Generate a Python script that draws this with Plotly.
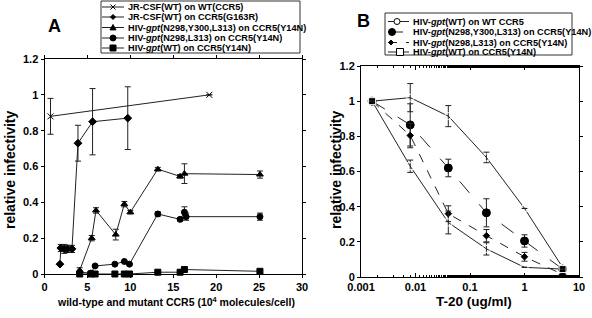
import plotly.graph_objects as go

W, H = 592, 318
FONT = "Liberation Sans, Arial, Helvetica, sans-serif"

# ---------------- Panel A data ----------------
a_wt_x = [0.7, 19.2]
a_wt_y = [0.88, 1.0]
a_wt_e = [0.10, 0.0]

a_g163r_x = [1.8, 1.9, 2.3, 2.7, 3.2, 3.9, 5.6, 9.7]
a_g163r_y = [0.055, 0.145, 0.14, 0.14, 0.14, 0.73, 0.85, 0.87]
a_g163r_e = [0.0, 0.02, 0.025, 0.02, 0.02, 0.10, 0.185, 0.175]

a_tri_x = [4.1, 5.5, 6.0, 8.3, 9.3, 10.0, 13.2, 15.8, 16.3, 25.1]
a_tri_y = [0.02, 0.20, 0.355, 0.22, 0.39, 0.345, 0.585, 0.545, 0.56, 0.555]
a_tri_e = [0.015, 0.015, 0.015, 0.03, 0.015, 0.01, 0.01, 0.01, 0.055, 0.02]

a_cir_x = [4.1, 5.4, 5.9, 8.2, 9.3, 9.9, 13.2, 15.8, 16.3, 16.5, 25.1]
a_cir_y = [0.01, 0.005, 0.045, 0.055, 0.07, 0.055, 0.335, 0.305, 0.345, 0.32, 0.32]
a_cir_e = [0.0, 0.0, 0.0, 0.0, 0.0, 0.0, 0.012, 0.01, 0.03, 0.02, 0.02]

a_sq_x = [4.1, 5.4, 5.9, 8.2, 9.3, 9.9, 13.2, 15.8, 16.3, 25.1]
a_sq_y = [0.0, 0.0, 0.0, 0.0, 0.0, 0.0, 0.01, 0.01, 0.025, 0.015]

# ---------------- Panel B data ----------------
b_x = [0.0016, 0.008, 0.04, 0.2, 1, 5]
b_wt_y = [1.0, 1.02, 0.915, 0.68, 0.39, 0.055]
b_wt_e = [0.0, 0.08, 0.06, 0.03, 0.0, 0.0]
b_nyl_y = [1.0, 0.865, 0.62, 0.365, 0.205, 0.045]
b_nyl_e = [0.0, 0.12, 0.05, 0.08, 0.035, 0.0]
b_nl_y = [1.0, 0.805, 0.36, 0.235, 0.115, 0.015]
b_nl_e = [0.0, 0.07, 0.045, 0.035, 0.025, 0.0]
b_sq_y = [1.0, 0.63, 0.31, 0.16, 0.055, 0.045]
b_sq_e = [0.0, 0.035, 0.065, 0.035, 0.0, 0.0]

a_xticks = [0, 5, 10, 15, 20, 25, 30]
ab_yticks = [0, 0.2, 0.4, 0.6, 0.8, 1, 1.2]
ab_yticklabels = ["0", "0.2", "0.4", "0.6", "0.8", "1", "1.2"]
b_xticks = [0.001, 0.01, 0.1, 1, 10]
b_xticklabels = ["0.001", "0.01", "0.1", "1", "10"]

legA = [
    "JR-CSF(WT) on WT(CCR5)",
    "JR-CSF(WT) on CCR5(G163R)",
    "HIV-<i>gpt</i>(N298,Y300,L313) on CCR5(Y14N)",
    "HIV-<i>gpt</i>(N298,L313) on CCR5(Y14N)",
    "HIV-<i>gpt</i>(WT) on CCR5(Y14N)",
]
legB = [
    "HIV-<i>gpt</i>(WT) on WT CCR5",
    "HIV-<i>gpt</i>(N298,Y300,L313) on CCR5(Y14N)",
    "HIV-<i>gpt</i>(N298,L313) on CCR5(Y14N)",
    "HIV-<i>gpt</i>(WT) on CCR5(Y14N)",
]

fig = go.Figure()

LC = "#222"


def err(e):
    return dict(type="data", array=e, visible=True, color=LC, thickness=1, width=3)


def add(x, y, e, sym, size, fill, dash, xa, ya, name):
    fig.add_trace(go.Scatter(
        x=x, y=y, mode="lines+markers", name=name,
        line=dict(color=LC, width=1, dash=dash),
        marker=dict(symbol=sym, size=size, color=fill,
                    line=dict(color="black", width=1)),
        error_y=err(e) if e is not None else None,
        cliponaxis=False, xaxis=xa, yaxis=ya, showlegend=False))


add(a_wt_x, a_wt_y, a_wt_e, "x-thin", 6, "black", "solid", "x", "y", legA[0])
add(a_g163r_x, a_g163r_y, a_g163r_e, "diamond", 6, "black", "solid", "x", "y", legA[1])
add(a_tri_x, a_tri_y, a_tri_e, "triangle-up", 6, "black", "solid", "x", "y", legA[2])
add(a_cir_x, a_cir_y, a_cir_e, "circle", 6, "black", "solid", "x", "y", legA[3])
add(a_sq_x, a_sq_y, None, "square", 6, "black", "solid", "x", "y", legA[4])

add(b_x, b_wt_y, b_wt_e, "circle-open", 7, "white", "solid", "x2", "y2", legB[0])
add(b_x, b_nyl_y, b_nyl_e, "circle", 8, "black", "longdash", "x2", "y2", legB[1])
add(b_x, b_nl_y, b_nl_e, "diamond", 5, "black", "dash", "x2", "y2", legB[2])
add(b_x, b_sq_y, b_sq_e, "square-open", 7, "white", "solid", "x2", "y2", legB[3])


def px(x):
    return x / W


def py(y):
    return 1 - y / H


tickfont = dict(family=FONT, size=11, color="black", weight="bold")
common = dict(showgrid=False, zeroline=False, showline=True, linecolor="black",
              linewidth=1, tickcolor="black", tickfont=tickfont, mirror="ticks",
              automargin=False)

fig.update_layout(
    width=W, height=H, margin=dict(l=0, r=0, t=0, b=0, pad=0),
    paper_bgcolor="white", plot_bgcolor="white", showlegend=False,
    xaxis=dict(domain=[px(44.5), px(302)], range=[0, 30], tickvals=a_xticks,
               ticks="outside", ticklen=3, **common),
    yaxis=dict(domain=[py(274), py(59)], range=[0, 1.2], tickvals=ab_yticks,
               ticktext=ab_yticklabels, ticks="outside", ticklen=3, **common),
    xaxis2=dict(domain=[px(361), px(579)], type="log", range=[-3, 1],
                tickvals=b_xticks, ticktext=b_xticklabels, ticks="inside", ticklen=4,
                minor=dict(ticks="inside", ticklen=2, tickwidth=0.8, tickcolor="black",
                           showgrid=False),
                anchor="y2", **common),
    yaxis2=dict(domain=[py(277), py(66)], range=[0, 1.2], tickvals=ab_yticks,
                ticktext=ab_yticklabels, ticks="outside", ticklen=3, anchor="x2", **common),
)

ann = []
shapes = []


def text(x, y, s, size, angle=0, xanchor="center"):
    ann.append(dict(x=px(x), y=py(y), xref="paper", yref="paper", text=s,
                    textangle=angle, showarrow=False, xanchor=xanchor, yanchor="middle",
                    font=dict(family=FONT, size=size, weight="bold", color="black")))


# axis titles and panel letters
text(10, 170, "relative infectivity", 14, -90)
text(336, 170, "relative infectivity", 14, -90)
text(176, 301, "wild-type and mutant CCR5 (10<sup>4</sup> molecules/cell)", 10.5)
text(474, 301, "T-20 (ug/ml)", 13.5)
text(54, 26, "A", 18)
text(363, 21, "B", 18)


def glyph(kind, cx, cy, s, filled):
    fc = "black" if filled else "white"
    if kind == "circle":
        shapes.append(dict(type="circle", xref="paper", yref="paper",
                           x0=px(cx - s), x1=px(cx + s), y0=py(cy - s), y1=py(cy + s),
                           line=dict(color="black", width=1), fillcolor=fc))
    elif kind == "square":
        shapes.append(dict(type="rect", xref="paper", yref="paper",
                           x0=px(cx - s), x1=px(cx + s), y0=py(cy - s), y1=py(cy + s),
                           line=dict(color="black", width=1), fillcolor=fc))
    elif kind == "diamond":
        path = "M{},{} L{},{} L{},{} L{},{} Z".format(
            px(cx), py(cy - s), px(cx + s), py(cy), px(cx), py(cy + s), px(cx - s), py(cy))
        shapes.append(dict(type="path", xref="paper", yref="paper", path=path,
                           line=dict(color="black", width=1), fillcolor=fc))
    elif kind == "triangle":
        path = "M{},{} L{},{} L{},{} Z".format(
            px(cx), py(cy - s), px(cx + s), py(cy + s * 0.8), px(cx - s), py(cy + s * 0.8))
        shapes.append(dict(type="path", xref="paper", yref="paper", path=path,
                           line=dict(color="black", width=1), fillcolor=fc))
    elif kind == "x":
        path = "M{},{} L{},{} M{},{} L{},{}".format(
            px(cx - s), py(cy - s), px(cx + s), py(cy + s),
            px(cx - s), py(cy + s), px(cx + s), py(cy - s))
        shapes.append(dict(type="path", xref="paper", yref="paper", path=path,
                           line=dict(color="black", width=1)))


def legend(box, rows, x0, x1, mx, tx, kinds, sizes, fills, dashes, fsize):
    shapes.append(dict(type="rect", xref="paper", yref="paper",
                       x0=px(box[0]), x1=px(box[2]), y0=py(box[3]), y1=py(box[1]),
                       line=dict(color="#333", width=1), fillcolor="white", layer="below"))
    for i, (label, cy) in enumerate(rows):
        shapes.append(dict(type="line", xref="paper", yref="paper",
                           x0=px(x0), x1=px(x1), y0=py(cy), y1=py(cy),
                           line=dict(color=LC, width=1, dash=dashes[i])))
        glyph(kinds[i], mx[i], cy, sizes[i], fills[i])
        text(tx, cy, label, fsize, xanchor="left")


legend((101, 1, 300, 53), list(zip(legA, [7, 17, 27.5, 38, 48])), 102, 124,
       [113, 113, 113, 113, 113], 126,
       ["x", "diamond", "triangle", "circle", "square"], [2.5, 2.5, 3, 3, 3],
       [True] * 5, ["solid"] * 5, 9.2)

legend((385, 13, 572, 55), list(zip(legB, [21.5, 32, 42.5, 52])), 388, 409,
       [397, 392, 391, 400], 411,
       ["circle", "circle", "diamond", "square"], [3, 3.5, 2.5, 3.5],
       [False, True, True, False], ["solid", "longdash", "dash", "solid"], 9.2)

fig.update_layout(annotations=ann, shapes=shapes)

fig.write_html("out.html", config={"displayModeBar": False},
               post_script="document.body.style.margin='0';document.body.style.padding='0';")
